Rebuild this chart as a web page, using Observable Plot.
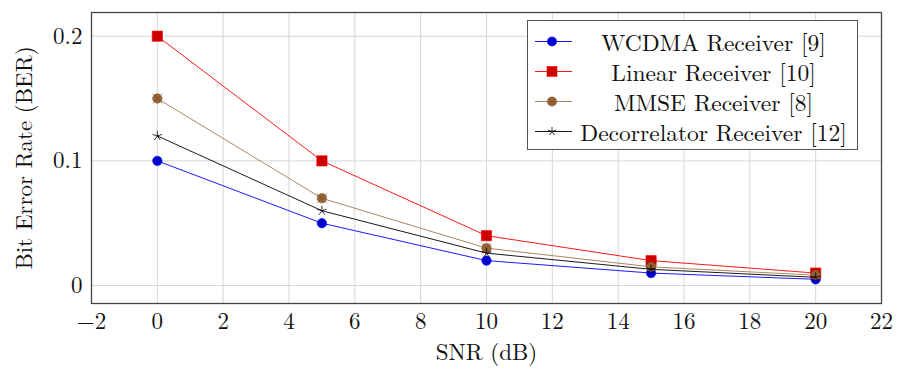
<!DOCTYPE html>
<html>
<head>
<meta charset="utf-8">
<script src="https://cdn.jsdelivr.net/npm/d3@7"></script>
<script src="https://cdn.jsdelivr.net/npm/@observablehq/plot@0.6"></script>
<style>
  body { margin: 0; background: #fff; font-family: 'Latin Modern Roman', 'Liberation Serif', serif; }
  #wrap { position: relative; width: 905px; height: 369px; }
  #wrap svg text { font-family: 'Latin Modern Roman', 'Liberation Serif', serif !important; fill: #111; }
  #legend { position: absolute; left: 527px; top: 20px; width: 329px; height: 128px;
    border: 1.3px solid #555; background: #fff; font-size: 23.5px; color: #111;
    font-family: 'Latin Modern Roman', 'Liberation Serif', serif; }
  .row { position: absolute; left: 0; width: 329px; height: 27px; }
  .row svg { position: absolute; left: 6px; top: 0; }
  .row span { position: absolute; left: 44px; right: 2px; top: 0; text-align: center; line-height: 27px; white-space: nowrap; }
</style>
</head>
<body>
<div id="wrap"><div id="legend"></div></div>
<script>
const snr = [0, 5, 10, 15, 20];
const seriesNames = ["WCDMA Receiver [9]", "Linear Receiver [10]", "MMSE Receiver [8]", "Decorrelator Receiver [12]"];
const wcdma = [0.10, 0.05, 0.020, 0.010, 0.005];
const linear = [0.20, 0.10, 0.040, 0.020, 0.010];
const mmse = [0.15, 0.07, 0.030, 0.015, 0.0083];
const decorrelator = [0.12, 0.06, 0.026, 0.013, 0.0066];
const xTicks = [-2, 0, 2, 4, 6, 8, 10, 12, 14, 16, 18, 20, 22];
const yTicks = [0, 0.1, 0.2];

const lineColors = ["#0000ff", "#ff0000", "#a0784f", "#000000"];
const markFill = ["#0000cc", "#cc0000", "#996633", "#000000"];

const allSeries = [wcdma, linear, mmse, decorrelator];
const rows = [];
allSeries.forEach((vals, s) => vals.forEach((v, i) => rows.push({series: seriesNames[s], idx: s, x: snr[i], y: v})));
const bySeries = s => rows.filter(d => d.idx === s);

const star5 = {
  draw(ctx, size) {
    const r = Math.sqrt(size / Math.PI);
    for (let i = 0; i < 5; i++) {
      const a = -Math.PI / 2 + i * 2 * Math.PI / 5;
      ctx.moveTo(0, 0);
      ctx.lineTo(r * Math.cos(a), r * Math.sin(a));
    }
  }
};

const marks = [
  Plot.gridX(xTicks, {stroke: "#d6d6d6", strokeOpacity: 1, strokeWidth: 1}),
  Plot.gridY(yTicks, {stroke: "#d6d6d6", strokeOpacity: 1, strokeWidth: 1}),
  Plot.axisX(xTicks, {tickSize: 0, tickPadding: 9, fontSize: 23, label: "SNR (dB)", labelAnchor: "center", labelArrow: "none", labelOffset: 56}),
  Plot.axisY(yTicks, {tickSize: 0, tickPadding: 9, fontSize: 23, tickFormat: d => d === 0 ? "0" : d3.format(".1f")(d), label: "Bit Error Rate (BER)", labelAnchor: "center", labelArrow: "none", labelOffset: 76})
];
// WCDMA
marks.push(Plot.line(bySeries(0), {x: "x", y: "y", stroke: lineColors[0], strokeWidth: 0.9}));
marks.push(Plot.dot(bySeries(0), {x: "x", y: "y", symbol: "circle", r: 4.7, fill: markFill[0], stroke: lineColors[0], strokeWidth: 0.6}));
// Linear
marks.push(Plot.line(bySeries(1), {x: "x", y: "y", stroke: lineColors[1], strokeWidth: 0.9}));
marks.push(Plot.dot(bySeries(1), {x: "x", y: "y", symbol: "square", r: 5.8, fill: markFill[1], stroke: lineColors[1], strokeWidth: 0.6}));
// MMSE
marks.push(Plot.line(bySeries(2), {x: "x", y: "y", stroke: lineColors[2], strokeWidth: 0.9}));
marks.push(Plot.dot(bySeries(2), {x: "x", y: "y", symbol: "circle", r: 4.7, fill: markFill[2], stroke: "#7a5530", strokeWidth: 0.6}));
marks.push(Plot.dot(bySeries(2), {x: "x", y: "y", symbol: "times", r: 4.7, fill: "none", stroke: "#5a3d20", strokeWidth: 0.5}));
// Decorrelator
marks.push(Plot.line(bySeries(3), {x: "x", y: "y", stroke: lineColors[3], strokeWidth: 0.9}));
marks.push(Plot.dot(bySeries(3), {x: "x", y: "y", symbol: star5, r: 5, fill: "none", stroke: "#000", strokeWidth: 0.8}));
marks.push(Plot.frame({stroke: "#444", strokeWidth: 1.3}));

const chart = Plot.plot({
  width: 905,
  height: 369,
  marginLeft: 91,
  marginRight: 24,
  marginTop: 12,
  marginBottom: 66,
  style: {fontFamily: "'Latin Modern Roman', 'Liberation Serif', serif", fontSize: "23px", color: "#111", background: "#fff"},
  x: {domain: [-2, 22]},
  y: {domain: [-0.0144, 0.219]},
  marks
});
document.getElementById("wrap").prepend(chart);

// Legend
const legend = document.getElementById("legend");
const rowTops = [7, 37, 67, 97];
const swatch = [
  `<circle cx="18" cy="13.5" r="4.6" fill="${markFill[0]}" stroke="${lineColors[0]}" stroke-width="0.6"/>`,
  `<rect x="13" y="8.5" width="10" height="10" fill="${markFill[1]}" stroke="${lineColors[1]}" stroke-width="0.6"/>`,
  `<circle cx="18" cy="13.5" r="4.6" fill="${markFill[2]}" stroke="#7a5530" stroke-width="0.6"/><path d="M15,10.5L21,16.5M21,10.5L15,16.5" stroke="#5a3d20" stroke-width="0.5"/>`,
  `<path d="M18,13.5L18,9M18,13.5L22.3,12.1M18,13.5L20.6,17.1M18,13.5L15.4,17.1M18,13.5L13.7,12.1" stroke="#000" stroke-width="0.8" fill="none"/>`
];
seriesNames.forEach((name, i) => {
  const row = document.createElement("div");
  row.className = "row";
  row.style.top = rowTops[i] + "px";
  row.innerHTML = `<svg width="40" height="27"><line x1="1" y1="13.5" x2="38" y2="13.5" stroke="${lineColors[i]}" stroke-width="0.9"/>${swatch[i]}</svg><span>${name}</span>`;
  legend.appendChild(row);
});
</script>
</body>
</html>
